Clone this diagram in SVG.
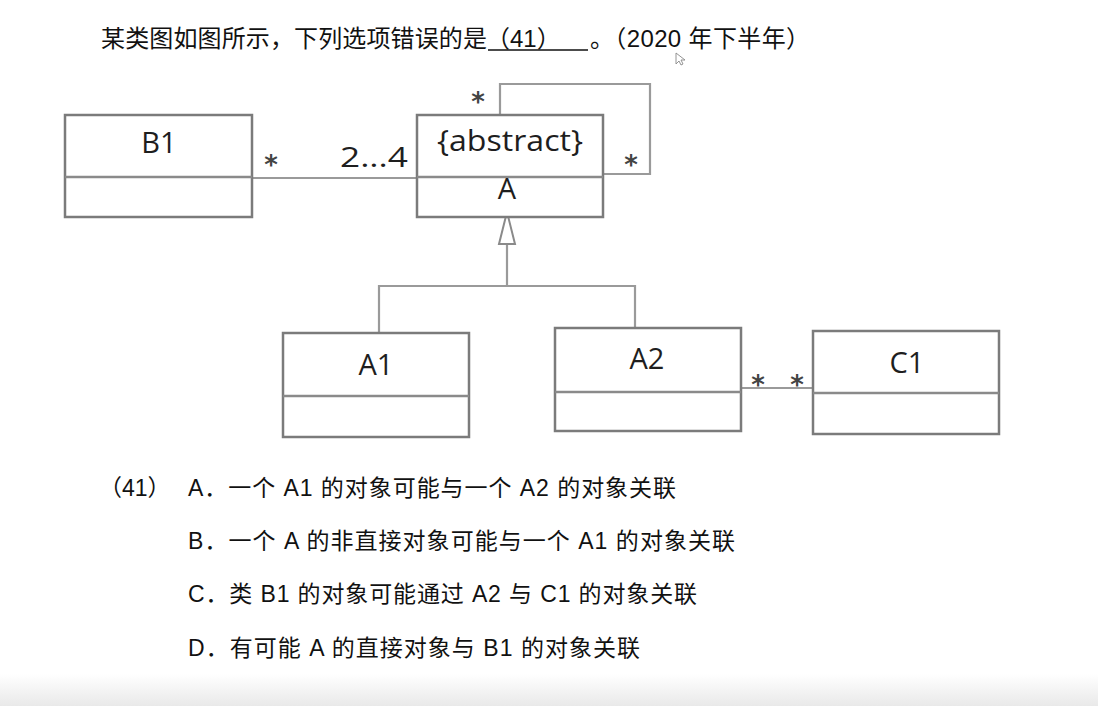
<svg xmlns="http://www.w3.org/2000/svg" width="1098" height="706" viewBox="0 0 1098 706">
<defs>
<linearGradient id="bottomShade" x1="0" y1="0" x2="0" y2="1">
<stop offset="0" stop-color="#ffffff"/>
<stop offset="1" stop-color="#e9e9e9"/>
</linearGradient>
<style>
.box{fill:#ffffff;stroke:#7b7b7b;stroke-width:2.5}
.div{stroke:#8a8a8a;stroke-width:2.5}
.conn{fill:none;stroke:#9a9a9a;stroke-width:2.2}
.name{font-family:"Open Sans","Noto Sans",sans-serif;font-size:29px;fill:#1e1e1e;text-anchor:middle}
.mult{font-family:"DejaVu Sans","Open Sans",sans-serif;font-size:26px;font-weight:bold;fill:#444;text-anchor:middle}
.lbl{font-family:"Open Sans","Noto Sans",sans-serif;font-size:28px;fill:#1e1e1e}
.q{font-family:"Liberation Sans","Noto Sans CJK SC",sans-serif;font-size:24px;fill:#111}
.opt{font-family:"Liberation Sans","Noto Sans CJK SC",sans-serif;font-size:23px;fill:#111}
</style>
</defs>
<rect x="0" y="0" width="1098" height="706" fill="#ffffff"/>
<rect x="0" y="674" width="1098" height="32" fill="url(#bottomShade)"/>

<g id="question">
<text class="q" x="101" y="47" textLength="386" lengthAdjust="spacing">某类图如图所示，下列选项错误的是</text>
<text class="q" x="486" y="47">（41）</text>
<line x1="488" y1="50" x2="588" y2="50" stroke="#111" stroke-width="1.6"/>
<text class="q" x="590" y="47" textLength="220" lengthAdjust="spacing">。（2020 年下半年）</text>
</g>

<g id="cursor">
<path d="M676,53 L676,64 L679,61 L681,65 L683,64 L681,60 L685,60 Z" fill="#ffffff" stroke="#888" stroke-width="0.9"/>
</g>

<g id="connectors">
<line class="conn" x1="252" y1="178" x2="417" y2="178"/>
<polyline class="conn" points="500,114 500,84 650,84 650,174 603,174"/>
<polyline class="conn" points="507,245 507,286"/>
<polyline class="conn" points="379,333 379,286 635,286 635,328"/>
<polygon points="507,212 499,244 515,244" fill="#ffffff" stroke="#8a8a8a" stroke-width="2"/>
<line class="conn" x1="741" y1="388" x2="813" y2="388"/>
<text class="mult" x="271" y="174">*</text>
<text class="lbl" x="408" y="167" text-anchor="end" textLength="68" lengthAdjust="spacingAndGlyphs">2...4</text>
<text class="mult" x="478" y="111">*</text>
<text class="mult" x="631" y="174">*</text>
<text class="mult" x="758" y="394">*</text>
<text class="mult" x="797" y="394">*</text>
</g>

<g id="node-B1">
<rect class="box" x="65" y="115" width="187" height="102"/>
<line class="div" x1="65" y1="177" x2="252" y2="177"/>
<text class="name" x="159" y="153">B1</text>
</g>

<g id="node-A">
<rect class="box" x="417" y="115" width="186" height="102"/>
<line class="div" x1="417" y1="177" x2="603" y2="177"/>
<text class="name" x="510" y="151" textLength="146" lengthAdjust="spacingAndGlyphs">{abstract}</text>
<text class="name" x="507" y="199">A</text>
</g>

<g id="node-A1">
<rect class="box" x="283" y="333" width="186" height="104"/>
<line class="div" x1="283" y1="396" x2="469" y2="396"/>
<text class="name" x="376" y="375">A1</text>
</g>

<g id="node-A2">
<rect class="box" x="555" y="328" width="186" height="103"/>
<line class="div" x1="555" y1="392" x2="741" y2="392"/>
<text class="name" x="647" y="369">A2</text>
</g>

<g id="node-C1">
<rect class="box" x="813" y="331" width="186" height="103"/>
<line class="div" x1="813" y1="393" x2="999" y2="393"/>
<text class="name" x="907" y="373">C1</text>
</g>

<g id="options">
<text class="opt" x="99" y="496">（41）</text>
<text class="opt" x="188" y="496" textLength="488" lengthAdjust="spacing">A．一个 A1 的对象可能与一个 A2 的对象关联</text>
<text class="opt" x="188" y="549" textLength="547" lengthAdjust="spacing">B．一个 A 的非直接对象可能与一个 A1 的对象关联</text>
<text class="opt" x="188" y="602" textLength="509" lengthAdjust="spacing">C．类 B1 的对象可能通过 A2 与 C1 的对象关联</text>
<text class="opt" x="188" y="656" textLength="452" lengthAdjust="spacing">D．有可能 A 的直接对象与 B1 的对象关联</text>
</g>
</svg>
